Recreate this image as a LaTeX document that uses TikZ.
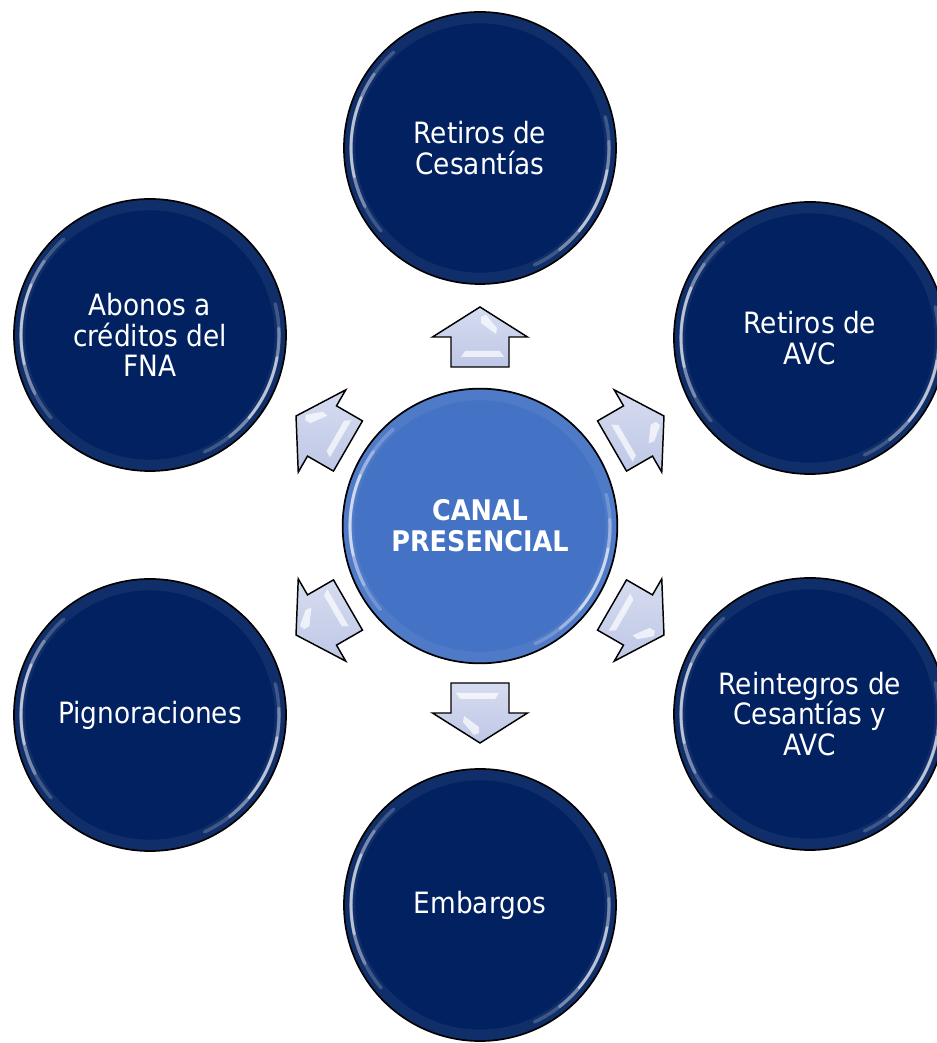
\documentclass[tikz,border=0pt]{standalone}
\usepackage{fontspec}
\setmainfont{DejaVu Sans Condensed}
\definecolor{navy}{HTML}{022161}
\definecolor{midblue}{HTML}{4472C4}
\definecolor{arrtop}{HTML}{D6DCF0}
\definecolor{arrbot}{HTML}{BEC7E6}
\tikzset{
  ball/.style={circle, draw=black, line width=1.3pt, minimum size=204pt, inner sep=0pt,
    text=white, align=center, font=\fontsize{22}{23}\selectfont},
  outerball/.style={ball, fill=navy},
  hub/.style={ball, fill=midblue, minimum size=206pt, font=\bfseries\fontsize{21.3}{23.3}\selectfont},
  blockarrow/.style={draw=black, line width=1.1pt, top color=arrtop, bottom color=arrbot, line join=miter},
  shine/.style={white, line cap=round},
}
\newcommand\glass[3]{%
  \begin{scope}[shift={(#1,#2)}]
    \draw[white, opacity=.06, line width=8pt] (0,0) circle (#3-6);
    \draw[shine, opacity=.2, line width=2.6pt] (132:#3-7) arc[start angle=132, end angle=220, radius=#3-7];
    \draw[shine, opacity=.3, line width=2.3pt] (145:#3-7) arc[start angle=145, end angle=207, radius=#3-7];
    \draw[shine, opacity=.5, line width=2pt] (157:#3-7) arc[start angle=157, end angle=193, radius=#3-7];
    \draw[shine, opacity=.2, line width=2.6pt] (-65:#3-7) arc[start angle=-65, end angle=14, radius=#3-7];
    \draw[shine, opacity=.3, line width=2.3pt] (-52:#3-7) arc[start angle=-52, end angle=3, radius=#3-7];
    \draw[shine, opacity=.5, line width=2pt] (-40:#3-7) arc[start angle=-40, end angle=-10, radius=#3-7];
  \end{scope}}
\newcommand\blockarr[3]{%
  \begin{scope}[shift={#2}, rotate=#3]
    \coordinate (#1) at (0,0);
    \path[blockarrow] (0,30) -- (47.5,0) -- (29,0) -- (29,-30) -- (-29,-30) -- (-29,0) -- (-47.5,0) -- cycle;
    \fill[white, opacity=.7] (1,20) -- (6,22) -- (17,9) -- (16,3) -- (1,14) -- cycle;
    \fill[white, opacity=.7] (-15,-14) -- (20,-14) -- (24,-20) -- (-19,-20) -- cycle;
  \end{scope}}
\begin{document}
\begin{tikzpicture}[x=0.75pt, y=0.75pt]
  \useasboundingbox (0,0) rectangle (937,1043);
  \clip (0,0) rectangle (937,1043);
  \fill[white] (0,0) rectangle (937,1043);

  \node[hub] (canal) at (480,517) {CANAL\\PRESENCIAL};
  \node[outerball] (cesantias) at (480,895) {Retiros de\\Cesantías};
  \node[outerball] (avc) at (810,705) {Retiros de\\AVC};
  \node[outerball] (reintegros) at (810,329) {Reintegros de\\Cesantías y\\AVC};
  \node[outerball] (embargos) at (480,138) {Embargos};
  \node[outerball] (pignora) at (150,328) {Pignoraciones};
  \node[outerball] (abonos) at (150,708) {Abonos a\\créditos del\\FNA};

  \glass{480}{517}{137}
  \glass{480}{895}{136}
  \glass{810}{705}{136}
  \glass{810}{329}{136}
  \glass{480}{138}{136}
  \glass{150}{328}{136}
  \glass{150}{708}{136}

  \blockarr{aup}{(480,706)}{0}
  \blockarr{aur}{(638,612)}{-60}
  \blockarr{alr}{(638,423)}{-120}
  \blockarr{adown}{(480,330)}{180}
  \blockarr{all}{(322,423)}{120}
  \blockarr{aul}{(322,612)}{60}
\end{tikzpicture}
\end{document}
